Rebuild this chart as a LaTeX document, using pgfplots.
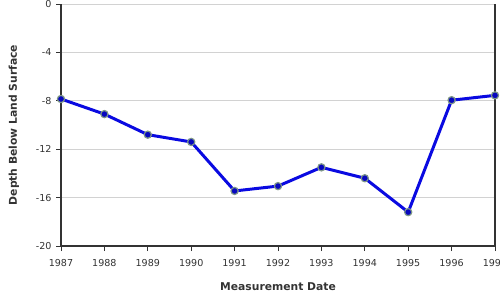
\documentclass[border=0pt]{standalone}
\usepackage{pgfplots}
\pgfplotsset{compat=1.18}
\usepackage{fontspec}
\setmainfont{DejaVu Sans}
\definecolor{axdark}{RGB}{51,51,51}
\definecolor{lineblue}{RGB}{10,10,225}
\definecolor{ring}{RGB}{125,150,135}
\definecolor{gridgray}{RGB}{210,210,210}
\begin{document}
\begin{tikzpicture}[x=1bp,y=1bp]
\begin{axis}[
  at={(0,0)}, anchor=south west,
  scale only axis,
  width=434bp, height=242bp,
  xmin=1987, xmax=1997,
  ymin=-20, ymax=0,
  xtick={1987,...,1997},
  ytick={-20,-16,-12,-8,-4,0},
  /pgf/number format/1000 sep={},
  /pgf/number format/assume math mode=true,
  ymajorgrids,
  grid style={gridgray, line width=0.8pt},
  axis line style={axdark, line width=1.8pt},
  axis x line*=bottom,
  axis y line*=left,
  tick style={axdark, line width=0.8pt},
  tick align=outside,
  major tick length=5bp,
  ticklabel style={font=\fontsize{9.6}{11}\selectfont, text=axdark},
  xticklabel style={yshift=-5bp},
  yticklabel style={xshift=-1bp},
  every axis x label/.style={at={(axis description cs:0.5,-0.1694)}, anchor=center},
  every axis y label/.style={at={(axis description cs:-0.1083,0.5)}, anchor=center, rotate=90},
  label style={font=\fontsize{10.8}{12}\selectfont\bfseries, text=axdark},
  xlabel={Measurement Date},
  ylabel={Depth Below Land Surface},
  clip=false,
]
\draw[axdark, line width=1.2pt] (axis cs:1997,-20) -- (axis cs:1997,0);
\addplot[lineblue, line width=3pt, mark=*, mark size=3.6pt,
  mark options={fill=lineblue!85!black, draw=ring, line width=1.2pt}]
  coordinates {
  (1987,-7.85) (1988,-9.1) (1989,-10.8) (1990,-11.4) (1991,-15.45)
  (1992,-15.05) (1993,-13.5) (1994,-14.4) (1995,-17.2) (1996,-7.95) (1997,-7.55)
  };
\end{axis}
\pgfresetboundingbox
\path[use as bounding box] (-61bp,-54bp) rectangle (439bp,246bp);
\end{tikzpicture}
\end{document}
